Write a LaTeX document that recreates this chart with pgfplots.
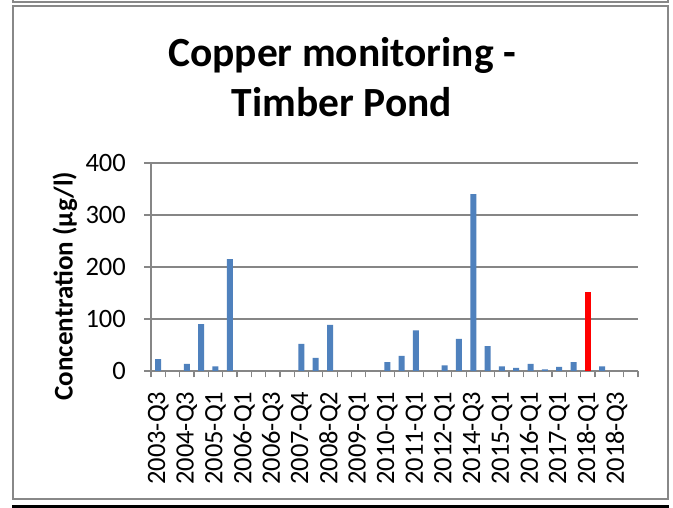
\documentclass[border=0pt]{standalone}
\usepackage{pgfplots}
\pgfplotsset{compat=1.18}
\usepackage{fontspec}
\setmainfont{Carlito}
\definecolor{barblue}{RGB}{79,129,189}
\definecolor{gridgray}{RGB}{134,134,134}
\definecolor{framegray}{RGB}{136,136,136}
\begin{document}
\begin{tikzpicture}[x=1pt,y=1pt]
\useasboundingbox (0,0) rectangle (673,508);
\fill[white] (0,0) rectangle (673,508);
\draw[framegray, line width=2pt] (13,502) rectangle (668,9);
\draw[framegray, line width=2pt] (13,509) -- (13,506) -- (668,506) -- (668,509);
\fill[black] (12,0) rectangle (668.5,3.3);
\node[font=\fontsize{41.5}{50}\selectfont\bfseries, anchor=base, inner sep=0pt] at (342,441.3) {Copper monitoring -};
\node[font=\fontsize{41.5}{50}\selectfont\bfseries, anchor=base, inner sep=0pt] at (342,391.3) {Timber Pond};
\node[font=\fontsize{27}{32}\selectfont\bfseries, rotate=90, anchor=base, inner sep=0pt] at (72.5,222) {Concentration (µg/l)};
\begin{axis}[
  at={(151pt,137pt)}, anchor=south west,
  width=487pt, height=208pt, scale only axis,
  xmin=-0.5, xmax=33.5, ymin=0, ymax=400,
  axis x line*=bottom, axis y line*=left,
  axis line style={gridgray, line width=1.2pt},
  ytick={0,100,200,300,400},
  ymajorgrids, grid style={gridgray, line width=1.2pt},
  tick align=outside,
  major tick length=6.5pt, minor tick length=6.5pt,
  ytick style={gridgray, line width=1.2pt},
  major x tick style={draw=none},
  minor x tick style={gridgray, line width=1.2pt},
  xtick={0,2,...,32},
  minor xtick={-0.5,0.5,...,33.5},
  xticklabels={2003-Q3,2004-Q3,2005-Q1,2006-Q1,2006-Q3,2007-Q4,2008-Q2,2009-Q1,2010-Q1,2011-Q1,2012-Q1,2014-Q3,2015-Q1,2016-Q1,2017-Q1,2018-Q1,2018-Q3},
  ticklabel style={font=\fontsize{26.5}{31}\selectfont},
  /pgf/number format/assume math mode=true,
  yticklabel style={anchor=east, inner sep=0pt, xshift=-18.5pt},
  xticklabel style={yshift=-14pt, rotate=90, anchor=east, inner sep=0pt},
]
\addplot[ybar, bar width=6pt, bar shift=0pt, fill=barblue, draw=none] coordinates {
(0,23) (2,13.5) (3,90) (4,9) (5,215)
(10,52) (11,25) (12,88.5)
(16,17) (17,29) (18,78) (20,11) (21,62) (22,340) (23,48)
(24,9) (25,6) (26,13.5) (27,3) (28,8) (29,17) (31,9)
};
\addplot[ybar, bar width=6pt, bar shift=0pt, fill=red, draw=none] coordinates {(30,152)};
\end{axis}
\end{tikzpicture}
\end{document}
